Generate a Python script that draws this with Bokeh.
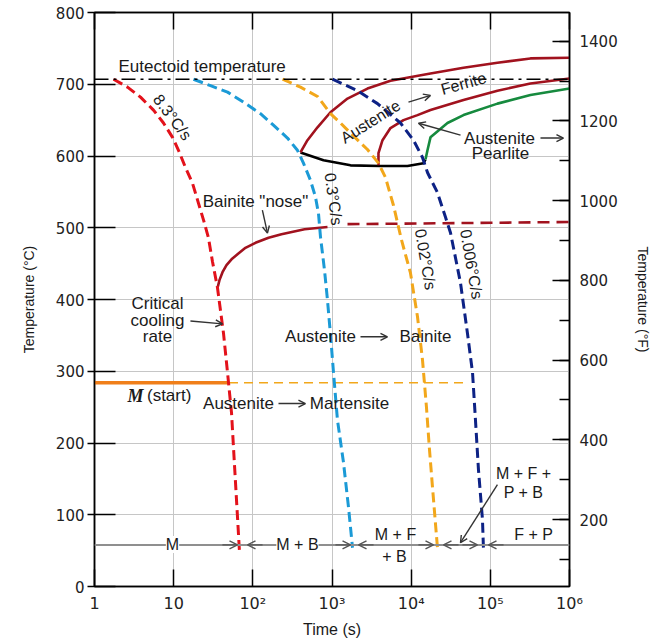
import math
from bokeh.plotting import figure
from bokeh.models import (LogAxis, LinearAxis, Range1d, FixedTicker, Label, Arrow,
                          OpenHead, Span)
from bokeh.embed import file_html
from bokeh.resources import INLINE

# ---------------- data (time in s, temperature in °C) ----------------
decades = [1, 10, 100, 1000, 10000, 100000, 1000000]
decade_labels = ["1", "10", "10²", "10³", "10⁴", "10⁵", "10⁶"]
c_ticks = [0, 100, 200, 300, 400, 500, 600, 700, 800]
f_ticks = [200, 400, 600, 800, 1000, 1200, 1400]
f_minor = [100, 200, 300, 400, 500, 600, 700, 800, 900, 1000, 1100, 1200, 1300, 1400]

eutectoid_T = 707

# 8.3 °C/s cooling curve (critical cooling rate)
r83_t = [1.74, 2.61, 3.81, 5.56, 7.44, 9.67, 11.5, 14.1, 17.3, 20.6, 23.8, 27.5, 30.9,
         35.7, 42.6, 47.9, 53.8, 58.4, 64.0, 67.6]
r83_T = [707, 696, 682, 664, 646, 626, 608, 584, 562, 534, 511, 486, 453,
         417, 353, 298, 242, 173, 97, 51]

# 0.3 °C/s
r03_t = [17.8, 29.2, 47.9, 76.2, 125, 182, 274, 366, 436, 535, 618, 675, 716, 804, 877,
         957, 1045, 1172, 1396, 1614, 1816]
r03_T = [707, 698, 689, 675, 659, 643, 625, 608, 590, 566, 543, 520, 487, 441, 399,
         351, 298, 232, 173, 111, 54]

# 0.02 °C/s
r002_t = [237, 400, 656, 957, 1280, 1714, 2806, 3864, 4740, 5984, 7551, 9795, 12023,
          13900, 15600, 17030, 18578, 21478]
r002_T = [707, 696, 683, 659, 646, 632, 609, 590, 570, 531, 483, 437, 376,
          316, 250, 191, 139, 54]

# 0.006 °C/s
r0006_t = [1014, 2100, 3757, 7330, 10700, 13900, 16070, 21478, 27100, 31400, 42000,
           51400, 59600, 64900, 70800, 79600, 81800]
r0006_T = [707, 691, 673, 646, 622, 598, 577, 549, 515, 493, 423, 353, 298, 232, 163, 93, 54]

# transformation start / finish curves
nose_t = [400, 781, 1714, 4093, 8980, 14310, 15170]
nose_T = [605, 594, 587, 586, 586, 590, 595]

ferrite_t = [400, 490, 656, 957, 1570, 2806, 5480, 17540, 45800, 123000, 321000, 1000000]
ferrite_T = [605, 622, 640, 661, 680, 694, 705, 715, 723, 730, 736, 737]

pearlite_t = [3864, 3864, 4345, 5480, 8000, 12020, 17540, 45800, 123000, 321000, 1000000]
pearlite_T = [587, 604, 622, 639, 650, 657, 664, 678, 691, 701, 708]

pearlite_end_t = [15170, 16070, 17540, 28750, 45800, 123000, 321000, 1000000]
pearlite_end_T = [595, 608, 626, 646, 657, 673, 685, 694]

bainite_t = [35.8, 37.9, 41.4, 46.5, 53.8, 64, 80.7, 108, 158, 230, 450, 877]
bainite_T = [416, 427, 438, 448, 456, 463, 472, 479, 486, 491, 498, 501]

bainite_dash_t = [1570, 1000000]
bainite_dash_T = [505, 508]

ms_T = 284
ms_solid_t = [1, 50]
ms_dash_t = [50, 45700]

# ---------------- styles ----------------
RED_DASH = "#e3121b"
BLUE = "#1b9ad6"
ORANGE = "#f2a71b"
NAVY = "#0d2285"
DARK_RED = "#a1121e"
GREEN = "#168a3e"
MS_ORANGE = "#f07f1a"
TXT = "#1a1a1a"
ANN_FONT = "Liberation Sans"

p = figure(width=662, height=640, x_axis_type="log",
           x_range=Range1d(1, 1e6), y_range=Range1d(0, 800),
           output_backend="svg", toolbar_location=None,
           min_border_left=94, min_border_right=93,
           min_border_top=12, min_border_bottom=53)
p.background_fill_color = "white"
p.border_fill_color = "white"
p.outline_line_color = "black"
p.outline_line_width = 1.5

# grid
p.xgrid.ticker = FixedTicker(ticks=decades)
p.ygrid.ticker = FixedTicker(ticks=c_ticks)
for g in (p.xgrid[0], p.ygrid[0]):
    g.grid_line_color = "#c6c6c6"
    g.grid_line_width = 1
    g.minor_grid_line_color = None

# bottom axis
xa = p.xaxis[0]
xa.ticker = FixedTicker(ticks=decades)
xa.major_label_overrides = {d: l for d, l in zip(decades, decade_labels)}
xa.major_tick_in = 17
xa.major_tick_out = 0
xa.minor_tick_in = 0
xa.minor_tick_out = 0
xa.major_label_standoff = 7
xa.axis_label = "Time (s)"
xa.axis_label_standoff = 5
xa.axis_label_text_font = ANN_FONT
xa.axis_label_text_font_size = "16px"
xa.axis_label_text_font_style = "normal"
xa.axis_label_text_color = TXT

# left axis
ya = p.yaxis[0]
ya.ticker = FixedTicker(ticks=c_ticks)
ya.major_tick_in = 21
ya.major_tick_out = 7
ya.minor_tick_in = 0
ya.minor_tick_out = 0
ya.major_label_standoff = 3
ya.axis_label = "Temperature (°C)"
ya.axis_label_standoff = 16
ya.axis_label_text_font = ANN_FONT
ya.axis_label_text_font_size = "14px"
ya.axis_label_text_font_style = "normal"
ya.axis_label_text_color = TXT

# right axis (°F)
p.extra_y_ranges = {"F": Range1d(32, 1472)}
ra = LinearAxis(y_range_name="F", ticker=FixedTicker(ticks=f_ticks, minor_ticks=f_minor),
                major_tick_in=17, major_tick_out=0, minor_tick_in=10, minor_tick_out=0,
                major_label_standoff=10, axis_label="Temperature (°F)",
                axis_label_standoff=14)
ra.axis_label_text_font = ANN_FONT
ra.axis_label_text_font_size = "14px"
ra.axis_label_text_font_style = "normal"
ra.axis_label_text_color = TXT
p.add_layout(ra, "right")

# top axis (ticks only)
ta = LogAxis(ticker=FixedTicker(ticks=decades), major_tick_in=17, major_tick_out=0,
             minor_tick_in=0, minor_tick_out=0, major_label_standoff=0)
p.add_layout(ta, "above")

for ax in (xa, ya, ra, ta):
    ax.axis_line_color = "black"
    ax.axis_line_width = 1.5
    ax.major_tick_line_color = "black"
    ax.major_tick_line_width = 1.5
    ax.minor_tick_line_color = "black"
    ax.minor_tick_line_width = 1.5
    ax.major_label_text_font = "DejaVu Sans"
    ax.major_label_text_font_size = "15px"
    ax.major_label_text_color = "#222222"
ta.major_label_text_font_size = "1px"
ta.major_label_text_alpha = 0
xa.major_label_text_font_size = "16px"

# bottom region line
p.add_layout(Span(location=58, dimension="width", line_color="#8f8f8f", line_width=2))

# eutectoid line
p.add_layout(Span(location=eutectoid_T, dimension="width", line_color="black",
                  line_width=1.6, line_dash="14 5 3 5"))

# M start
p.line(ms_solid_t, [ms_T, ms_T], line_color=MS_ORANGE, line_width=3.5)
p.line(ms_dash_t, [ms_T, ms_T], line_color=ORANGE, line_width=1.6, line_dash="9 6")

# transformation curves
p.line(nose_t, nose_T, line_color="black", line_width=2.6)
p.line(ferrite_t, ferrite_T, line_color=DARK_RED, line_width=2.6)
p.line(pearlite_t, pearlite_T, line_color=DARK_RED, line_width=2.6)
p.line(pearlite_end_t, pearlite_end_T, line_color=GREEN, line_width=2.6)
p.line(bainite_t, bainite_T, line_color=DARK_RED, line_width=2.6)
p.line(bainite_dash_t, bainite_dash_T, line_color=DARK_RED, line_width=2.6, line_dash="12 7")

# cooling curves
p.line(r83_t, r83_T, line_color=RED_DASH, line_width=3, line_dash="10 5")
p.line(r03_t, r03_T, line_color=BLUE, line_width=3, line_dash="10 5")
p.line(r002_t, r002_T, line_color=ORANGE, line_width=3, line_dash="10 5")
p.line(r0006_t, r0006_T, line_color=NAVY, line_width=3, line_dash="10 5")


def lab(x, y, text, size="17px", align="center", angle=0.0, bg=None, font=ANN_FONT,
        style="normal", baseline="middle"):
    l = Label(x=x, y=y, text=text, text_font=font, text_font_size=size,
              text_align=align, text_baseline=baseline, angle=math.radians(angle),
              text_color=TXT, text_font_style=style)
    if bg:
        l.background_fill_color = bg
    p.add_layout(l)


def arr(x0, y0, x1, y1, color="#333333", size=8, width=1.4):
    p.add_layout(Arrow(end=OpenHead(size=size, line_color=color, line_width=width),
                       x_start=x0, y_start=y0, x_end=x1, y_end=y1,
                       line_color=color, line_width=width))


lab(2.01, 725, "Eutectoid temperature", align="left")
lab(9.67, 654, "8.3°C/s", size="16px", angle=-53)
lab(1045, 540, "0.3°C/s", size="16px", angle=-82)
lab(15170, 456, "0.02°C/s", size="16px", angle=-80)
lab(57800, 449, "0.006°C/s", size="16px", angle=-80)

lab(3062, 648, "Austenite", size="16px", angle=32)
arr(9250, 675, 17540, 684.5, size=7)
lab(45800, 701, "Ferrite", size="16px", angle=15.5)

lab(130600, 625, "Austenite")
arr(430000, 625, 839000, 625, size=7)
lab(134300, 603, "Pearlite")
arr(42000, 629, 12370, 645.6, size=7)

lab(108, 536, "Bainite \"nose\"")
arr(132, 524.5, 153, 492.5, size=7)

lab(6.25, 395, "Critical")
lab(6.25, 371, "cooling")
lab(6.25, 348, "rate")
arr(16.3, 370, 41.4, 366, size=7)

lab(716, 348, "Austenite")
arr(2290, 348, 5020, 348, size=7)
lab(15170, 348, "Bainite")

lab(3.3, 266, "M", size="18px", font="Liberation Serif", style="bold italic")
lab(4.6, 266, "(start)", align="left")
lab(65.9, 255, "Austenite")
arr(211, 255, 462, 255, size=7)
lab(1663, 255, "Martensite")

# bottom region labels
lab(9.67, 58.4, "M", size="16px", bg="white")
lab(366, 58.4, "M + B", size="16px", bg="white")
lab(6340, 73, "M + F", size="16px")
lab(6150, 42, "+ B", size="16px")
lab(262000, 157, "M + F +", size="16px")
lab(262000, 131, "P + B", size="16px")
lab(351000, 73, "F + P", size="16px")
arr(123000, 142, 42000, 61, size=7)

# bottom arrow heads (towards each cooling curve end)
k = 1.55
for tip in [64, 1714, 19140, 68800]:
    arr(tip / k, 58, tip, 58, color="#555555", size=8)
for tip in [85.6, 2162, 25600, 94800]:
    arr(tip * k, 58, tip, 58, color="#555555", size=8)

open("out.html", "w").write(file_html(p, INLINE))
